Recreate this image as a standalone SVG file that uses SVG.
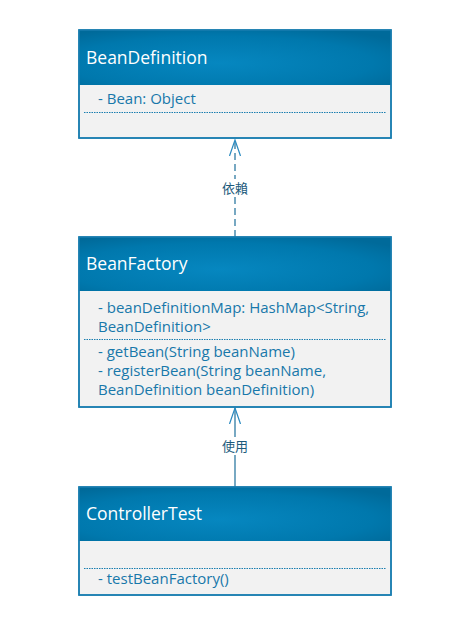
<svg xmlns="http://www.w3.org/2000/svg" width="473" height="623" viewBox="0 0 473 623">
<style>
.box{fill:#f2f2f2;stroke:#1a7eb0;stroke-width:1.5}
.hdr{fill:url(#g)}
.title{font-family:"Open Sans","Noto Sans",sans-serif;font-size:17.5px;fill:#ffffff}
.m{font-family:"Open Sans","Noto Sans",sans-serif;font-size:15px;fill:#1878aa}
.sep{stroke:#1a7eb0;stroke-width:1;stroke-dasharray:1.5 1}
.lbl{font-family:"Noto Sans CJK SC",sans-serif;font-size:13px;fill:#1d5b7c}
.ln{stroke:#1d6f9a;stroke-width:1.2;fill:none}
</style>
<defs>
<radialGradient id="g" cx="0.45" cy="0.6" r="0.7">
<stop offset="0" stop-color="#0687c0"/>
<stop offset="0.7" stop-color="#0078ad"/>
<stop offset="1" stop-color="#006a9a"/>
</radialGradient>
<marker id="open" viewBox="0 0 17 12" refX="16" refY="6" markerWidth="17" markerHeight="12" markerUnits="userSpaceOnUse" orient="auto">
<path d="M0,0.5 L16,6 L0,11.5" fill="none" stroke="#2a8ac0" stroke-width="1.2"/>
</marker>
</defs>
<g id="connectors">
<line class="ln" x1="235" y1="237" x2="235" y2="140" stroke-dasharray="7 4" marker-end="url(#open)"/>
<rect x="219" y="179" width="32" height="18" fill="#ffffff"/>
<text class="lbl" x="235" y="193" text-anchor="middle">依賴</text>
<line class="ln" x1="235" y1="487" x2="235" y2="408" marker-end="url(#open)"/>
<rect x="219" y="437" width="32" height="18" fill="#ffffff"/>
<text class="lbl" x="235" y="451" text-anchor="middle">使用</text>
</g>
<g id="BeanDefinition">
<rect class="box" x="79" y="30" width="312" height="108"/>
<rect class="hdr" x="79" y="30" width="312" height="55"/>
<rect x="79" y="30" width="312" height="108" fill="none" stroke="#1a7eb0" stroke-width="1.5"/>
<text class="title" x="86" y="64">BeanDefinition</text>
<text class="m" x="98" y="104">- Bean: Object</text>
<line class="sep" x1="84" y1="112.5" x2="386" y2="112.5"/>
</g>
<g id="BeanFactory">
<rect class="box" x="79" y="237" width="312" height="170"/>
<rect class="hdr" x="79" y="237" width="312" height="54"/>
<rect x="79" y="237" width="312" height="170" fill="none" stroke="#1a7eb0" stroke-width="1.5"/>
<text class="title" x="86" y="270">BeanFactory</text>
<text class="m" x="98" y="313">- beanDefinitionMap: HashMap&lt;String,</text>
<text class="m" x="98" y="332">BeanDefinition&gt;</text>
<line class="sep" x1="84" y1="339.5" x2="386" y2="339.5"/>
<text class="m" x="98" y="357">- getBean(String beanName)</text>
<text class="m" x="98" y="376">- registerBean(String beanName,</text>
<text class="m" x="98" y="395">BeanDefinition beanDefinition)</text>
</g>
<g id="ControllerTest">
<rect class="box" x="79" y="487" width="312" height="108"/>
<rect class="hdr" x="79" y="487" width="312" height="54"/>
<rect x="79" y="487" width="312" height="108" fill="none" stroke="#1a7eb0" stroke-width="1.5"/>
<text class="title" x="86" y="520">ControllerTest</text>
<line class="sep" x1="84" y1="568.5" x2="386" y2="568.5"/>
<text class="m" x="98" y="584">- testBeanFactory()</text>
</g>
</svg>
